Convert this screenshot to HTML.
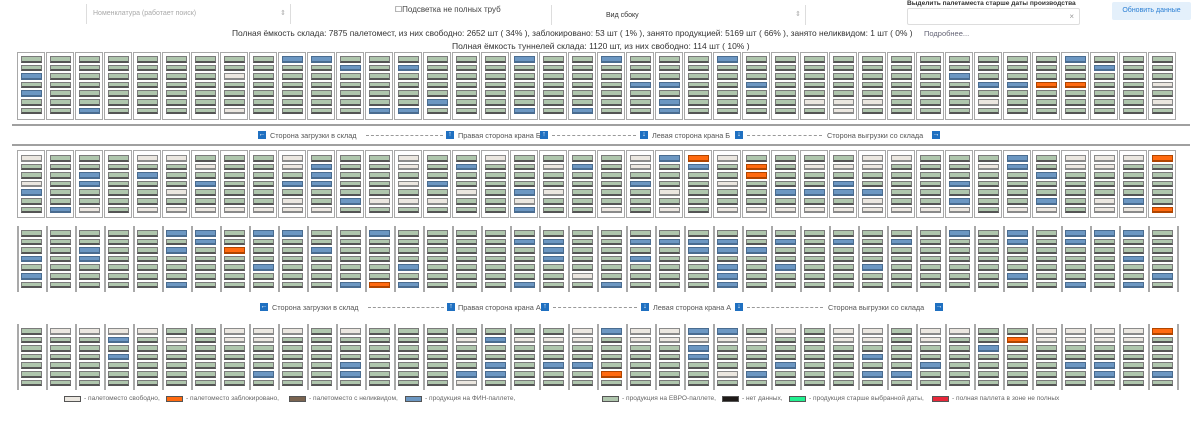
<!DOCTYPE html>
<html><head><meta charset="utf-8">
<style>
body{margin:0;width:1200px;height:424px;background:#fff;font-family:"Liberation Sans","DejaVu Sans",sans-serif;position:relative;overflow:hidden;color:#333}
.a{position:absolute}
.box{position:absolute;border:1.5px solid #a8a8a8;box-sizing:border-box;background:#fff}
.vl{position:absolute;width:2px;background:#a9a9a9}
.slot{position:absolute;box-sizing:border-box;border:1px solid #7a7a7a;border-bottom:2px solid #555;height:6.5px;width:21px}
.g{background:#afc6ad}.b{background:#6c97c2;border-color:#4a6c90}.w{background:#ebe7e0;border-color:#8a8a8a}.o{background:#ff6a10;border-color:#b04500}
.ic{position:absolute;width:8px;height:8px;background:#1f70c1;color:#fff;font-size:7px;line-height:8px;text-align:center}
.lt{position:absolute;font-size:7.3px;color:#555;white-space:nowrap}
.hl{position:absolute;left:12px;width:1178px;height:2px;background:#a0a0a0}
.lg{position:absolute;top:396px;width:17px;height:6px;box-sizing:border-box;border:1px solid #555}
.lgt{position:absolute;top:395px;font-size:6.6px;color:#666;white-space:nowrap}
</style></head><body>
<div class="a" style="left:86px;top:4px;width:205px;height:20px;border-left:1px solid #ddd;border-right:1px solid #ddd;box-sizing:border-box"><span class="a" style="left:6px;top:6px;font-size:7px;color:#aaa">Номенклатура (работает поиск)</span><span class="a" style="right:4px;top:5px;font-size:7px;color:#aaa">⇕</span></div>
<div class="a" style="left:395px;top:5px;font-size:8px;color:#444">☐Подсветка не полных труб</div>
<div class="a" style="left:551px;top:5px;width:255px;height:20px;border-left:1px solid #ddd;border-right:1px solid #ddd;box-sizing:border-box"><span class="a" style="left:54px;top:7px;font-size:7px;color:#333">Вид сбоку</span><span class="a" style="right:4px;top:5px;font-size:7px;color:#aaa">⇕</span></div>
<div class="a" style="left:907px;top:0px;font-size:6.6px;font-weight:bold;color:#333">Выделить палетаместа старше даты производства</div>
<div class="a" style="left:907px;top:8px;width:173px;height:17px;border:1px solid #ddd;border-radius:2px;box-sizing:border-box;background:#fff"><span class="a" style="right:5px;top:3px;font-size:8px;color:#999">×</span></div>
<div class="a" style="left:1112px;top:2px;width:79px;height:18px;background:#e4f0fb;border-radius:2px;color:#2b7fd4;font-size:7px;text-align:center;line-height:18px">Обновить данные</div>
<div class="a" style="left:232px;top:28px;font-size:8.4px;color:#333;white-space:nowrap">Полная ёмкость склада: 7875 палетомест, из них свободно: 2652 шт ( 34% ), заблокировано: 53 шт ( 1% ), занято продукцией: 5169 шт ( 66% ), занято неликвидом: 1 шт ( 0% )</div>
<div class="a" style="left:924px;top:29px;font-size:7.5px;color:#667">Подробнее...</div>
<div class="a" style="left:452px;top:41px;font-size:8.5px;color:#333;white-space:nowrap">Полная ёмкость туннелей склада: 1120 шт, из них свободно: 114 шт ( 10% )</div>
<div class="hl" style="top:124px"></div>
<div class="hl" style="top:144px"></div>
<div id="grid"></div>
<div id="labels"></div>
<div id="legend"></div>
<script>
const row1=["ggbgbgg","ggggggg","ggggggb","ggggggg","ggggggg","ggggggg","ggggggg","ggwgggw","ggggggg","bgggggg","bgggggg","gbggggg","ggggggb","gbggggb","gggggbg","ggggggg","ggggggg","bgggggb","ggggggg","ggggggb","bgggggg","gggbggg","gggbgbb","ggggggg","bgggggg","gggbggg","ggggggg","gggggwg","gggggww","gggggwg","ggggggg","ggggggg","ggbgggg","gggbgwg","gggbggg","gggoggg","bggoggg","gbggggg","ggggggg","gggwgwg"];
const row2=["wggwbgg","ggggggb","ggbbggw","ggggggg","wgbgggw","wgggwgw","gwgbggw","ggggggw","ggggggw","wwgbgww","gbbbggw","gggggbg","gggggwg","wwgwgwg","gggbgwg","gbggwgg","wgggggg","ggggbwb","gwggwgg","gbggggg","ggggggw","wwgbggg","bgggwgw","obggggg","wggwggw","googggw","ggggbgw","gwggbgw","gwgbbgw","wwggbww","wgggggw","ggggggw","gggbgbw","gwggggg","bbggggw","ggbggbw","wwggggg","wwgggww","wggggbw","oggggggo".slice(0,6)+"o"];
const row3=["gggbgbg","ggggggg","ggbbggg","ggggggg","ggggggg","bgbgggb","bbggggg","ggogggg","bgggbgg","bgggggg","ggbgggg","ggggggb","bggggggo".slice(0,6)+"o","ggggbgb","ggggggg","ggggggg","ggggggg","gbggggb","gbbbggg","gggggwg","ggggggb","gbgbggg","gbggggg","gbbgggg","gbbgbbb","ggbgggg","gbggbgg","ggggggg","gbggggg","ggggbgg","gbggggg","ggggggg","bgggggg","ggggggg","bbgggbg","ggggggg","bbggggb","bgggggg","bggbggb","gggggbg"];
const row4=["ggggggg","wgggggg","wgggggg","wbgbggg","wgggggg","gwggggg","ggggggg","wwggggg","wwgggbg","wgggggg","ggggggg","wgggbbg","ggggggg","ggggggg","ggggggg","gwgggbw","gbggbbg","gwggggg","gwggbgg","wwggbgg","bggggog","wwggggg","wwggggg","bwbbggg","bwgggwg","gwgggbg","wgggbgg","ggggggg","wwggggg","wwgbgbg","gggggbg","wwggbgg","wgggggg","ggbgggg","gogggggg".slice(0,7),"wwggggg","wwggbgg","wwggbbg","wwggggg","oggggbg"];
const rows=[row1,row2,row3,row4];
const rowTop=[52,150,226,324];
const slotTop=[4,5,4,4];
const boxed=[true,true,false,false];
const x0=17,colW=29,slotStep=8.6,rowH=68;
const grid=document.getElementById('grid');
rows.forEach((row,ri)=>{
  row.forEach((col,ci)=>{
    const x=x0+ci*colW;
    if(boxed[ri]){
      const b=document.createElement('div');b.className='box';
      
      
      b.style.cssText=`left:${x}px;top:${rowTop[ri]}px;width:28px;height:${rowH}px`;grid.appendChild(b);
    }else{
      const v=document.createElement('div');v.className='vl';
      
      
      v.style.cssText=`left:${x}px;top:${rowTop[ri]}px;height:${rowH-2}px`;grid.appendChild(v);
    }
    [...col].forEach((c,si)=>{
      const s=document.createElement('div');s.className='slot '+c;
      
      
      s.style.left=(x+4)+'px';s.style.top=(rowTop[ri]+slotTop[ri]+si*slotStep)+'px';
      grid.appendChild(s);
    });
  });
  if(!boxed[ri]){
    const v=document.createElement('div');v.className='vl';
    
    
    v.style.cssText=`left:${x0+40*colW}px;top:${rowTop[ri]}px;height:${rowH-2}px`;grid.appendChild(v);
  }
});
const labelRows=[{y:131,crane:'Б',xs:[258,446,540,640,735,932],txt:[270,458,652,827],dash:[[366,443],[552,636],[747,822]]},
 {y:303,crane:'А',xs:[260,447,541,641,735,935],txt:[272,458,653,828],dash:[[368,444],[553,637],[747,823]]}];
const L=document.getElementById('labels');
labelRows.forEach(r=>{
  const glyph=['←','↑','↑','↓','↓','→'];
  r.xs.forEach((x,i)=>{const d=document.createElement('div');d.className='ic';
    
    
    d.style.left=x+'px';d.style.top=r.y+'px';d.textContent=glyph[i];L.appendChild(d);});
  const t=['Сторона загрузки в склад','Правая сторона крана '+r.crane,'Левая сторона крана '+r.crane,'Сторона выгрузки со склада'];
  t.forEach((s,i)=>{const d=document.createElement('div');d.className='lt';
    
    
    d.style.left=r.txt[i]+'px';d.style.top=(r.y-0.5)+'px';d.textContent=s;L.appendChild(d);});
  r.dash.forEach(([a,b])=>{const d=document.createElement('div');
    
    
    d.style.cssText=`position:absolute;left:${a}px;top:${r.y+4}px;width:${b-a}px;border-top:1px dashed #999`;L.appendChild(d);});
});
const legSw=[64,166,289,405,602,722,789,932];
const legCol=['#ebe7e0','#ff6a10','#7a6450','#6c97c2','#afc6ad','#1e1a18','#22f090','#e8283a'];
const legTxt=['- палетоместо свободно,','- палетоместо заблокировано,','- палетоместо с неликвидом,','- продукция на ФИН-паллете,','- продукция на ЕВРО-паллете,','- нет данных,','- продукция старше выбранной даты,','- полная паллета в зоне не полных'];
const LG=document.getElementById('legend');
legSw.forEach((x,i)=>{
  const s=document.createElement('div');s.className='lg';
  
  
  s.style.left=x+'px';s.style.background=legCol[i];LG.appendChild(s);
  const t=document.createElement('div');t.className='lgt';
  
  
  t.style.left=(x+20)+'px';t.textContent=legTxt[i];LG.appendChild(t);
});
</script>
</body></html>
